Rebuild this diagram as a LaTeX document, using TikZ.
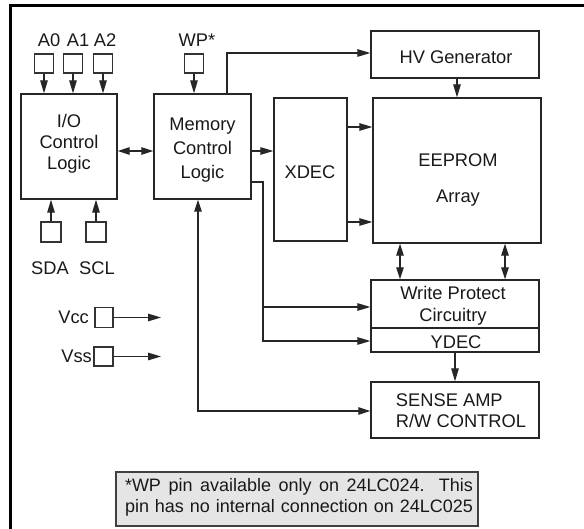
\documentclass[tikz,border=0pt]{standalone}
\usepackage{fontspec}
\setmainfont{Liberation Sans}
\usetikzlibrary{arrows.meta}
\begin{document}
\begin{tikzpicture}[x=1pt,y=-1pt,
  every node/.style={font=\fontsize{18.3}{22}\selectfont, text=black!90},
  box/.style={draw=black!85, line width=1.3pt, inner sep=0pt, fill=white},
  pin/.style={draw=black!80, line width=1.2pt, inner sep=0pt, minimum width=19pt, minimum height=19pt},
  txt/.style={inner sep=0pt, align=center},
  wire/.style={draw=black!85, line width=1.2pt},
  arr/.style={wire, -{Triangle[length=13pt,width=7.5pt]}},
  barr/.style={wire, {Triangle[length=12pt,width=7.5pt]}-{Triangle[length=12pt,width=7.5pt]}}
]
\useasboundingbox (0,0) rectangle (584,529);
% outer frame
\draw[line width=3pt] (10,529) -- (10,6) -- (584,6);

% address pins
\node[pin] (a0) at (44,63.5) {};
\node[pin] (a1) at (73,63.5) {};
\node[pin] (a2) at (103,63.5) {};
\node[pin] (wp) at (194,63.5) {};
\node[txt] (la0) at (49,40) {A0};
\node[txt] (la1) at (78,40) {A1};
\node[txt] (la2) at (105,40) {A2};
\node[txt] (lwp) at (197,40) {WP*};

% main blocks
\node[box, minimum width=96pt, minimum height=105pt] (io) at (69,146.5) {};
\node[txt, font=\fontsize{18.3}{21}\selectfont] (tio) at (69,144) {I/O\\Control\\Logic};
\node[box, minimum width=97pt, minimum height=105pt] (mem) at (202.5,146.5) {};
\node[txt, font=\fontsize{18.3}{24}\selectfont] (tmem) at (202.5,150) {Memory\\Control\\Logic};
\node[box, minimum width=73pt, minimum height=143pt] (xdec) at (310.5,169.5) {};
\node[txt] (txdec) at (310,172) {XDEC};
\node[box, minimum width=168pt, minimum height=47pt] (hv) at (455,54.5) {};
\node[txt] (thv) at (456,57) {HV Generator};
\node[box, minimum width=168pt, minimum height=145pt] (ee) at (457,170.5) {};
\node[txt] (tee1) at (458,160) {EEPROM};
\node[txt] (tee2) at (458,198) {Array};
\node[box, minimum width=168pt, minimum height=48pt] (wpc) at (455,304) {};
\node[txt, font=\fontsize{18.3}{22}\selectfont] (twpc) at (453,306) {Write Protect\\Circuitry};
\node[box, minimum width=168pt, minimum height=24pt] (ydec) at (455,340) {};
\node[txt] (tydec) at (456,342) {YDEC};
\node[box, minimum width=168pt, minimum height=56pt] (sense) at (455,410) {};
\node[txt, align=left, font=\fontsize{18.3}{21}\selectfont] (tsense) at (461,411) {SENSE AMP\\R/W CONTROL};

% serial pins
\node[pin, minimum width=20pt, minimum height=20pt] (sda) at (51,232) {};
\node[pin, minimum width=20pt, minimum height=20pt] (scl) at (96,232) {};
\node[txt] (lsda) at (50,268) {SDA};
\node[txt] (lscl) at (97,268) {SCL};

% supply pins
\node[pin, minimum width=18pt, minimum height=20pt] (vcc) at (104,317.5) {};
\node[pin, minimum width=19pt, minimum height=19pt] (vss) at (103.5,356.5) {};
\node[txt, anchor=east] (lvcc) at (89,317) {Vcc};
\node[txt, anchor=east] (lvss) at (92,356) {Vss};
\coordinate (vccend) at (161,317.5);
\coordinate (vssend) at (161,356.5);

% helper coordinates
\coordinate (y151) at (0,151);
\coordinate (y127) at (0,127);
\coordinate (y222) at (0,222);
\coordinate (j1) at (263,182);
\coordinate (j2) at (263,307);
\coordinate (j3) at (263,341);
\coordinate (x400) at (400,0);
\coordinate (x505) at (505,0);
\coordinate (k1) at (198,411);
\coordinate (hvc) at (227,53);

% connectors
\draw[arr] (a0) -- (a0 |- io.north);
\draw[arr] (a1) -- (a1 |- io.north);
\draw[arr] (a2) -- (a2 |- io.north);
\draw[arr] (wp) -- (wp |- mem.north);
\draw[arr] (sda) -- (sda |- io.south);
\draw[arr] (scl) -- (scl |- io.south);
\draw[barr] (io.east |- y151) -- (mem.west |- y151);
\draw[arr] (mem.east |- y151) -- (xdec.west |- y151);
\draw[arr] (mem.north -| hvc) -- (hvc) -- (hv.west |- hvc);
\draw[arr] (hv.south -| ee.north) -- (ee.north);
\draw[arr] (xdec.east |- y127) -- (ee.west |- y127);
\draw[arr] (xdec.east |- y222) -- (ee.west |- y222);
\draw[arr] (mem.east |- j1) -- (j1) -- (j3) -- (ydec.west |- j3);
\draw[arr] (j2) -- (wpc.west |- j2);
\draw[barr] (ee.south -| x400) -- (wpc.north -| x400);
\draw[barr] (ee.south -| x505) -- (wpc.north -| x505);
\draw[arr] (ydec.south) -- (sense.north);
\draw[barr] (mem.south -| k1) -- (k1) -- (sense.west |- k1);
\draw[arr] (vcc.east) -- (vccend);
\draw[arr] (vss.east) -- (vssend);

% note
\node[draw=black!75, fill=black!10, line width=1.3pt, minimum width=362pt, minimum height=54pt, inner sep=0pt] (note) at (297,499) {};
\node[txt, font=\fontsize{18}{21}\selectfont] (tnote) at (299,497.5) {\makebox[348pt][s]{*WP pin available only on 24LC024. This}\\\makebox[348pt][s]{pin has no internal connection on 24LC025}};
\end{tikzpicture}
\end{document}
